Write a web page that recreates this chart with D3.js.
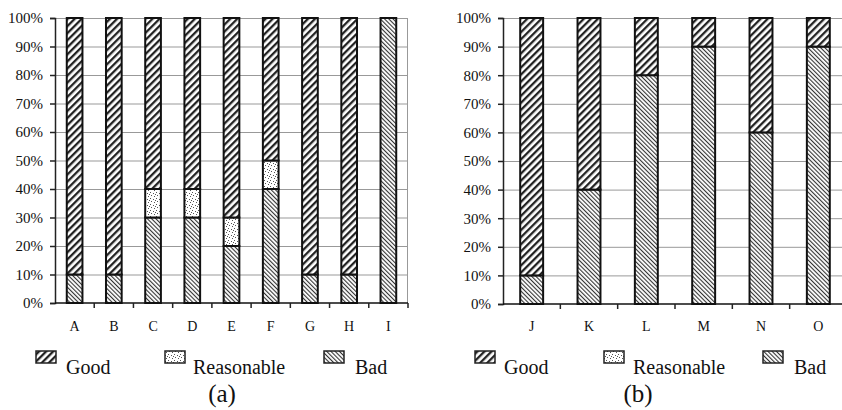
<!DOCTYPE html>
<html>
<head>
<meta charset="utf-8">
<script src="https://cdn.jsdelivr.net/npm/d3@7"></script>
<style>
  body { margin: 0; background: #fff; }
  svg, svg text { font-family: "Liberation Serif", "Times New Roman", Times, "DejaVu Serif", serif; }
</style>
</head>
<body>
<script>
// chart (a)
var catsA = ["A", "B", "C", "D", "E", "F", "G", "H", "I"];
var goodA = [90, 90, 60, 60, 70, 50, 90, 90, 0];
var reasA = [0, 0, 10, 10, 10, 10, 0, 0, 0];
var badA = [10, 10, 30, 30, 20, 40, 10, 10, 100];
// chart (b)
var catsB = ["J", "K", "L", "M", "N", "O"];
var goodB = [90, 60, 20, 10, 40, 10];
var reasB = [0, 0, 0, 0, 0, 0];
var badB = [10, 40, 80, 90, 60, 90];

var yTicks = [0, 10, 20, 30, 40, 50, 60, 70, 80, 90, 100];
var seriesNames = ["Good", "Reasonable", "Bad"];
var captions = ["(a)", "(b)"];

var width = 842, height = 410;
var svg = d3.select("body").append("svg").attr("width", width).attr("height", height);

// fill patterns
var defs = svg.append("defs");
var pGood = defs.append("pattern").attr("id", "pGood").attr("patternUnits", "userSpaceOnUse")
  .attr("width", 5).attr("height", 5).attr("patternTransform", "rotate(45)");
pGood.append("rect").attr("width", 5).attr("height", 5).attr("fill", "#fff");
pGood.append("rect").attr("x", 0).attr("width", 2.3).attr("height", 5).attr("fill", "#222");

var pBad = defs.append("pattern").attr("id", "pBad").attr("patternUnits", "userSpaceOnUse")
  .attr("width", 3).attr("height", 3).attr("patternTransform", "rotate(-45)");
pBad.append("rect").attr("width", 3).attr("height", 3).attr("fill", "#fff");
pBad.append("rect").attr("x", 0).attr("width", 1.1).attr("height", 3).attr("fill", "#333");

var pReas = defs.append("pattern").attr("id", "pReas").attr("patternUnits", "userSpaceOnUse")
  .attr("width", 6).attr("height", 6);
pReas.append("rect").attr("width", 6).attr("height", 6).attr("fill", "#fff");
[[0, 0], [3, 1], [1, 3], [4, 4], [5, 2]].forEach(function(p) {
  pReas.append("rect").attr("x", p[0]).attr("y", p[1]).attr("width", 1).attr("height", 1).attr("fill", "#555");
});

var fills = { Good: "url(#pGood)", Reasonable: "url(#pReas)", Bad: "url(#pBad)" };

var charts = [
  { cats: catsA, good: goodA, reas: reasA, bad: badA, x0: 55, x1: 408, yTop: 18, yBot: 303,
    legSw: [36, 165, 324], legTx: [66, 193, 355], capX: 222 },
  { cats: catsB, good: goodB, reas: reasB, bad: badB, x0: 503, x1: 847, yTop: 18, yBot: 304,
    legSw: [475, 604, 763], legTx: [504, 633, 794], capX: 638 }
];

charts.forEach(function(c, ci) {
  var g = svg.append("g");
  var x = d3.scaleBand().domain(c.cats).range([c.x0, c.x1]).paddingInner(0.6).paddingOuter(0.3);
  var y = d3.scaleLinear().domain([0, 100]).range([c.yBot, c.yTop]);

  // gridlines
  g.selectAll(".grid").data(yTicks.slice(1)).enter().append("line")
    .attr("x1", c.x0).attr("x2", c.x1)
    .attr("y1", function(d) { return y(d) + 0.5; }).attr("y2", function(d) { return y(d) + 0.5; })
    .attr("stroke", "#999").attr("stroke-width", 1);
  g.append("line").attr("x1", c.x1 - 0.5).attr("x2", c.x1 - 0.5).attr("y1", c.yTop).attr("y2", c.yBot)
    .attr("stroke", "#999");

  // stacked bars
  var rows = c.cats.map(function(k, i) {
    return { cat: k, Bad: c.bad[i], Reasonable: c.reas[i], Good: c.good[i] };
  });
  var stack = d3.stack().keys(["Bad", "Reasonable", "Good"])(rows);
  var bw = x.bandwidth();
  stack.forEach(function(layer) {
    g.selectAll(".seg-" + layer.key).data(layer.filter(function(d) { return d[1] - d[0] > 0; }))
      .enter().append("rect")
      .attr("x", function(d) { return x(d.data.cat); })
      .attr("y", function(d) { return y(d[1]); })
      .attr("width", bw)
      .attr("height", function(d) { return y(d[0]) - y(d[1]); })
      .attr("fill", fills[layer.key])
      .attr("stroke", "#111").attr("stroke-width", 2);
  });

  // y axis
  var yAxis = d3.axisLeft(y).tickValues(yTicks).tickSize(5).tickPadding(7)
    .tickFormat(function(d) { return d + "%"; });
  var ya = g.append("g").attr("transform", "translate(" + c.x0 + ",0)").call(yAxis)
    .attr("font-family", null).attr("font-size", null);
  ya.select(".domain").attr("stroke", "#222").attr("stroke-width", 1.5);
  ya.selectAll(".tick line").attr("stroke", "#222").attr("stroke-width", 1.5);
  ya.selectAll("text").attr("font-size", 15).attr("fill", "#111");

  // x axis
  g.append("line").attr("x1", c.x0).attr("x2", c.x1).attr("y1", c.yBot).attr("y2", c.yBot)
    .attr("stroke", "#111").attr("stroke-width", 1.5);
  var step = x.step();
  g.selectAll(".xt").data(c.cats).enter().append("line")
    .attr("x1", function(d, i) { return c.x0 + (i + 1) * step; })
    .attr("x2", function(d, i) { return c.x0 + (i + 1) * step; })
    .attr("y1", c.yBot).attr("y2", c.yBot + 5)
    .attr("stroke", "#222").attr("stroke-width", 1.5);
  g.selectAll(".xl").data(c.cats).enter().append("text")
    .attr("x", function(d) { return x(d) + bw / 2; })
    .attr("y", 331).attr("text-anchor", "middle").attr("font-size", 14).attr("fill", "#111")
    .text(function(d) { return d; });

  // legend
  seriesNames.forEach(function(name, i) {
    g.append("rect").attr("x", c.legSw[i]).attr("y", 351).attr("width", 20).attr("height", 12)
      .attr("fill", fills[name]).attr("stroke", "#222").attr("stroke-width", 1.5);
    g.append("text").attr("x", c.legTx[i]).attr("y", 374).attr("font-size", 20).attr("fill", "#111")
      .text(name);
  });
  g.append("text").attr("x", c.capX).attr("y", 402).attr("text-anchor", "middle")
    .attr("font-size", 25).attr("fill", "#111").text(captions[ci]);
});
</script>
</body>
</html>
